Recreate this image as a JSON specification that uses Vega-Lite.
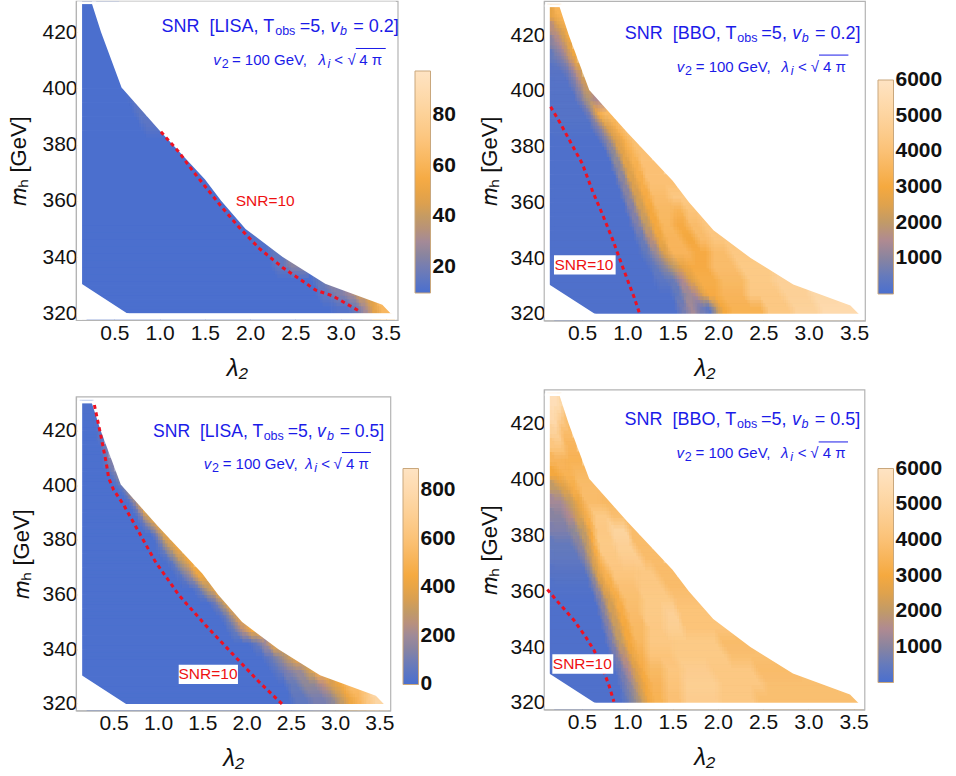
{"$schema":"https://vega.github.io/schema/vega-lite/v6.json","padding":{"left":7,"top":0,"right":0,"bottom":0},"spacing":21,
"resolve":{"scale":{"fill":"independent"},"legend":{"fill":"independent"}},
"config":{"font":"Liberation Sans","view":{"stroke":"#b4b4b4","strokeWidth":1.2},"axis":{"grid":false,"labelFont":"Liberation Sans","labelFontSize":21,"labelColor":"#111111","titleFont":"Liberation Sans","titleFontWeight":"normal","titleFontSize":22,"titleColor":"#111111","domainColor":"#b4b4b4","domainWidth":1.2,"tickColor":"#b4b4b4","tickSize":-4,"zindex":1},"axisX":{"labelPadding":6,"titlePadding":13,"titleFontSize":24},"axisY":{"labelPadding":3},"legend":{"orient":"none","title":null,"gradientThickness":15.5,"labelFont":"Liberation Sans","labelFontSize":21,"labelFontWeight":"bold","labelColor":"#111111","gradientStrokeColor":"#c9a77c","gradientStrokeWidth":1,"labelOverlap":false,"labelOffset":7,"direction":"vertical"}},
"datasets":{
"p1":[
{"x":0.144,"x2":2.9,"y":320,"y2":325,"v":10},{"x":2.9,"x2":3.1,"y":320,"y2":325,"v":12},{"x":3.1,"x2":3.2,"y":320,"y2":325,"v":18},{"x":3.2,"x2":3.3,"y":320,"y2":325,"v":30},{"x":3.3,"x2":3.4,"y":320,"y2":325,"v":48},{"x":3.4,"x2":3.55,"y":320,"y2":325,"v":62},
{"x":0.144,"x2":2.75,"y":325,"y2":330,"v":10},{"x":2.75,"x2":2.9,"y":325,"y2":330,"v":16},{"x":2.9,"x2":3.05,"y":325,"y2":330,"v":22},{"x":3.05,"x2":3.15,"y":325,"y2":330,"v":30},{"x":3.15,"x2":3.3,"y":325,"y2":330,"v":42},
{"x":0.144,"x2":2.7,"y":330,"y2":335,"v":10},{"x":2.7,"x2":2.8,"y":330,"y2":335,"v":17},{"x":2.8,"x2":2.9,"y":330,"y2":335,"v":24},
{"x":0.144,"x2":2.25,"y":335,"y2":340,"v":10},{"x":2.25,"x2":2.4,"y":335,"y2":340,"v":16},{"x":2.4,"x2":2.6,"y":335,"y2":340,"v":24},
{"x":0.144,"x2":2.2,"y":340,"y2":345,"v":10},{"x":2.2,"x2":2.36,"y":340,"y2":345,"v":16},
{"x":0.144,"x2":2.0,"y":345,"y2":350,"v":10},{"x":2.0,"x2":2.15,"y":345,"y2":350,"v":13},
{"x":0.144,"x2":1.95,"y":350,"y2":385,"v":10},
{"x":0.144,"x2":0.8,"y":385,"y2":390,"v":10},{"x":0.8,"x2":1.0,"y":385,"y2":390,"v":14},
{"x":0.144,"x2":0.72,"y":390,"y2":395,"v":10},{"x":0.72,"x2":0.85,"y":390,"y2":395,"v":15},
{"x":0.144,"x2":0.65,"y":395,"y2":400,"v":10},{"x":0.65,"x2":0.72,"y":395,"y2":400,"v":13},
{"x":0.144,"x2":0.58,"y":400,"y2":430,"v":10}],
"p3":[
{"x":0.144,"x2":2.5,"y":320,"y2":325,"v":5},{"x":2.5,"x2":2.7,"y":320,"y2":325,"v":60},{"x":2.7,"x2":2.9,"y":320,"y2":325,"v":110},{"x":2.9,"x2":3.0,"y":320,"y2":325,"v":170},{"x":3.0,"x2":3.1,"y":320,"y2":325,"v":300},{"x":3.1,"x2":3.2,"y":320,"y2":325,"v":420},{"x":3.2,"x2":3.3,"y":320,"y2":325,"v":520},{"x":3.3,"x2":3.4,"y":320,"y2":325,"v":640},{"x":3.4,"x2":3.55,"y":320,"y2":325,"v":760},
{"x":0.144,"x2":2.45,"y":325,"y2":330,"v":5},{"x":2.45,"x2":2.6,"y":325,"y2":330,"v":80},{"x":2.6,"x2":2.8,"y":325,"y2":330,"v":170},{"x":2.8,"x2":2.9,"y":325,"y2":330,"v":240},{"x":2.9,"x2":3.0,"y":325,"y2":330,"v":350},{"x":3.0,"x2":3.1,"y":325,"y2":330,"v":430},{"x":3.1,"x2":3.3,"y":325,"y2":330,"v":560},
{"x":0.144,"x2":2.3,"y":330,"y2":335,"v":5},{"x":2.3,"x2":2.4,"y":330,"y2":335,"v":60},{"x":2.4,"x2":2.5,"y":330,"y2":335,"v":120},{"x":2.5,"x2":2.65,"y":330,"y2":335,"v":190},{"x":2.65,"x2":2.75,"y":330,"y2":335,"v":330},{"x":2.75,"x2":2.88,"y":330,"y2":335,"v":480},
{"x":0.144,"x2":2.2,"y":335,"y2":340,"v":5},{"x":2.2,"x2":2.3,"y":335,"y2":340,"v":70},{"x":2.3,"x2":2.4,"y":335,"y2":340,"v":160},{"x":2.4,"x2":2.5,"y":335,"y2":340,"v":290},{"x":2.5,"x2":2.6,"y":335,"y2":340,"v":430},
{"x":0.144,"x2":2.05,"y":340,"y2":345,"v":5},{"x":2.05,"x2":2.15,"y":340,"y2":345,"v":70},{"x":2.15,"x2":2.25,"y":340,"y2":345,"v":200},{"x":2.25,"x2":2.36,"y":340,"y2":345,"v":420},
{"x":0.144,"x2":1.8,"y":345,"y2":350,"v":5},{"x":1.8,"x2":1.9,"y":345,"y2":350,"v":80},{"x":1.9,"x2":2.0,"y":345,"y2":350,"v":250},{"x":2.0,"x2":2.15,"y":345,"y2":350,"v":430},
{"x":0.144,"x2":1.72,"y":350,"y2":355,"v":5},{"x":1.72,"x2":1.8,"y":350,"y2":355,"v":90},{"x":1.8,"x2":1.88,"y":350,"y2":355,"v":260},{"x":1.88,"x2":1.95,"y":350,"y2":355,"v":420},
{"x":0.144,"x2":1.6,"y":355,"y2":360,"v":5},{"x":1.6,"x2":1.68,"y":355,"y2":360,"v":100},{"x":1.68,"x2":1.75,"y":355,"y2":360,"v":280},{"x":1.75,"x2":1.82,"y":355,"y2":360,"v":430},
{"x":0.144,"x2":1.42,"y":360,"y2":365,"v":5},{"x":1.42,"x2":1.5,"y":360,"y2":365,"v":90},{"x":1.5,"x2":1.6,"y":360,"y2":365,"v":280},{"x":1.6,"x2":1.68,"y":360,"y2":365,"v":430},
{"x":0.144,"x2":1.22,"y":365,"y2":370,"v":5},{"x":1.22,"x2":1.3,"y":365,"y2":370,"v":60},{"x":1.3,"x2":1.4,"y":365,"y2":370,"v":190},{"x":1.4,"x2":1.55,"y":365,"y2":370,"v":420},
{"x":0.144,"x2":1.12,"y":370,"y2":375,"v":5},{"x":1.12,"x2":1.2,"y":370,"y2":375,"v":80},{"x":1.2,"x2":1.3,"y":370,"y2":375,"v":270},{"x":1.3,"x2":1.4,"y":370,"y2":375,"v":430},
{"x":0.144,"x2":1.0,"y":375,"y2":380,"v":5},{"x":1.0,"x2":1.08,"y":375,"y2":380,"v":90},{"x":1.08,"x2":1.17,"y":375,"y2":380,"v":280},{"x":1.17,"x2":1.27,"y":375,"y2":380,"v":430},
{"x":0.144,"x2":0.95,"y":380,"y2":385,"v":5},{"x":0.95,"x2":1.0,"y":380,"y2":385,"v":120},{"x":1.0,"x2":1.06,"y":380,"y2":385,"v":300},{"x":1.06,"x2":1.13,"y":380,"y2":385,"v":440},
{"x":0.144,"x2":0.8,"y":385,"y2":390,"v":5},{"x":0.8,"x2":0.86,"y":385,"y2":390,"v":120},{"x":0.86,"x2":0.93,"y":385,"y2":390,"v":300},{"x":0.93,"x2":1.0,"y":385,"y2":390,"v":440},
{"x":0.144,"x2":0.72,"y":390,"y2":395,"v":5},{"x":0.72,"x2":0.78,"y":390,"y2":395,"v":130},{"x":0.78,"x2":0.85,"y":390,"y2":395,"v":420},
{"x":0.144,"x2":0.62,"y":395,"y2":400,"v":5},{"x":0.62,"x2":0.66,"y":395,"y2":400,"v":100},{"x":0.66,"x2":0.72,"y":395,"y2":400,"v":260},
{"x":0.144,"x2":0.5,"y":400,"y2":405,"v":5},{"x":0.5,"x2":0.55,"y":400,"y2":405,"v":90},{"x":0.55,"x2":0.58,"y":400,"y2":405,"v":170},
{"x":0.144,"x2":0.4,"y":405,"y2":410,"v":5},{"x":0.4,"x2":0.45,"y":405,"y2":410,"v":80},{"x":0.45,"x2":0.5,"y":405,"y2":410,"v":130},
{"x":0.144,"x2":0.38,"y":410,"y2":415,"v":5},{"x":0.38,"x2":0.44,"y":410,"y2":415,"v":110},
{"x":0.144,"x2":0.33,"y":415,"y2":420,"v":5},{"x":0.33,"x2":0.39,"y":415,"y2":420,"v":70},
{"x":0.144,"x2":0.3,"y":420,"y2":425,"v":5},{"x":0.3,"x2":0.354,"y":420,"y2":425,"v":35},
{"x":0.144,"x2":0.3,"y":425,"y2":430,"v":10}],
"p2":[
{"x":0.144,"x2":1.55,"y":320,"y2":325,"v":100},{"x":1.55,"x2":1.65,"y":320,"y2":325,"v":700},{"x":1.65,"x2":1.75,"y":320,"y2":325,"v":1400},{"x":1.75,"x2":1.85,"y":320,"y2":325,"v":700},{"x":1.85,"x2":1.93,"y":320,"y2":325,"v":300},{"x":1.93,"x2":2.0,"y":320,"y2":325,"v":1900},{"x":2.0,"x2":2.1,"y":320,"y2":325,"v":3000},{"x":2.1,"x2":2.5,"y":320,"y2":325,"v":3400},{"x":2.5,"x2":2.8,"y":320,"y2":325,"v":4300},{"x":2.8,"x2":3.1,"y":320,"y2":325,"v":4900},{"x":3.1,"x2":3.55,"y":320,"y2":325,"v":5400},
{"x":0.144,"x2":1.5,"y":325,"y2":330,"v":100},{"x":1.5,"x2":1.6,"y":325,"y2":330,"v":500},{"x":1.6,"x2":1.7,"y":325,"y2":330,"v":1300},{"x":1.7,"x2":1.78,"y":325,"y2":330,"v":1500},{"x":1.78,"x2":1.85,"y":325,"y2":330,"v":2400},{"x":1.85,"x2":2.0,"y":325,"y2":330,"v":3100},{"x":2.0,"x2":2.3,"y":325,"y2":330,"v":3500},{"x":2.3,"x2":2.7,"y":325,"y2":330,"v":4300},{"x":2.7,"x2":3.0,"y":325,"y2":330,"v":4800},{"x":3.0,"x2":3.3,"y":325,"y2":330,"v":5200},
{"x":0.144,"x2":1.3,"y":330,"y2":335,"v":100},{"x":1.3,"x2":1.45,"y":330,"y2":335,"v":300},{"x":1.45,"x2":1.55,"y":330,"y2":335,"v":600},{"x":1.55,"x2":1.65,"y":330,"y2":335,"v":1500},{"x":1.65,"x2":1.75,"y":330,"y2":335,"v":2500},{"x":1.75,"x2":2.0,"y":330,"y2":335,"v":3200},{"x":2.0,"x2":2.3,"y":330,"y2":335,"v":3700},{"x":2.3,"x2":2.6,"y":330,"y2":335,"v":4400},{"x":2.6,"x2":2.88,"y":330,"y2":335,"v":4800},
{"x":0.144,"x2":1.25,"y":335,"y2":340,"v":100},{"x":1.25,"x2":1.35,"y":335,"y2":340,"v":500},{"x":1.35,"x2":1.45,"y":335,"y2":340,"v":1100},{"x":1.45,"x2":1.55,"y":335,"y2":340,"v":2000},{"x":1.55,"x2":1.65,"y":335,"y2":340,"v":2700},{"x":1.65,"x2":1.9,"y":335,"y2":340,"v":3100},{"x":1.9,"x2":2.2,"y":335,"y2":340,"v":3800},{"x":2.2,"x2":2.6,"y":335,"y2":340,"v":4400},
{"x":0.144,"x2":1.15,"y":340,"y2":345,"v":100},{"x":1.15,"x2":1.25,"y":340,"y2":345,"v":500},{"x":1.25,"x2":1.35,"y":340,"y2":345,"v":1300},{"x":1.35,"x2":1.45,"y":340,"y2":345,"v":2400},{"x":1.45,"x2":1.7,"y":340,"y2":345,"v":3500},{"x":1.7,"x2":1.9,"y":340,"y2":345,"v":3100},{"x":1.9,"x2":2.1,"y":340,"y2":345,"v":3800},{"x":2.1,"x2":2.36,"y":340,"y2":345,"v":4300},
{"x":0.144,"x2":1.1,"y":345,"y2":350,"v":100},{"x":1.1,"x2":1.2,"y":345,"y2":350,"v":600},{"x":1.2,"x2":1.3,"y":345,"y2":350,"v":1700},{"x":1.3,"x2":1.4,"y":345,"y2":350,"v":2800},{"x":1.4,"x2":1.6,"y":345,"y2":350,"v":3500},{"x":1.6,"x2":1.75,"y":345,"y2":350,"v":3000},{"x":1.75,"x2":1.9,"y":345,"y2":350,"v":3800},{"x":1.9,"x2":2.15,"y":345,"y2":350,"v":4200},
{"x":0.144,"x2":1.05,"y":350,"y2":355,"v":100},{"x":1.05,"x2":1.15,"y":350,"y2":355,"v":800},{"x":1.15,"x2":1.25,"y":350,"y2":355,"v":2000},{"x":1.25,"x2":1.35,"y":350,"y2":355,"v":3000},{"x":1.35,"x2":1.5,"y":350,"y2":355,"v":3600},{"x":1.5,"x2":1.65,"y":350,"y2":355,"v":3100},{"x":1.65,"x2":1.8,"y":350,"y2":355,"v":3800},{"x":1.8,"x2":1.95,"y":350,"y2":355,"v":4200},
{"x":0.144,"x2":1.0,"y":355,"y2":360,"v":100},{"x":1.0,"x2":1.1,"y":355,"y2":360,"v":900},{"x":1.1,"x2":1.2,"y":355,"y2":360,"v":2200},{"x":1.2,"x2":1.3,"y":355,"y2":360,"v":3000},{"x":1.3,"x2":1.5,"y":355,"y2":360,"v":3700},{"x":1.5,"x2":1.62,"y":355,"y2":360,"v":3400},{"x":1.62,"x2":1.82,"y":355,"y2":360,"v":4100},
{"x":0.144,"x2":0.95,"y":360,"y2":365,"v":100},{"x":0.95,"x2":1.05,"y":360,"y2":365,"v":1000},{"x":1.05,"x2":1.15,"y":360,"y2":365,"v":2300},{"x":1.15,"x2":1.25,"y":360,"y2":365,"v":3100},{"x":1.25,"x2":1.45,"y":360,"y2":365,"v":3800},{"x":1.45,"x2":1.68,"y":360,"y2":365,"v":4300},
{"x":0.144,"x2":0.9,"y":365,"y2":370,"v":100},{"x":0.9,"x2":1.0,"y":365,"y2":370,"v":1000},{"x":1.0,"x2":1.1,"y":365,"y2":370,"v":2400},{"x":1.1,"x2":1.2,"y":365,"y2":370,"v":3200},{"x":1.2,"x2":1.55,"y":365,"y2":370,"v":4000},
{"x":0.144,"x2":0.85,"y":370,"y2":375,"v":100},{"x":0.85,"x2":0.95,"y":370,"y2":375,"v":1100},{"x":0.95,"x2":1.05,"y":370,"y2":375,"v":2500},{"x":1.05,"x2":1.15,"y":370,"y2":375,"v":3300},{"x":1.15,"x2":1.4,"y":370,"y2":375,"v":4000},
{"x":0.144,"x2":0.8,"y":375,"y2":380,"v":100},{"x":0.8,"x2":0.9,"y":375,"y2":380,"v":1200},{"x":0.9,"x2":1.0,"y":375,"y2":380,"v":2600},{"x":1.0,"x2":1.1,"y":375,"y2":380,"v":3400},{"x":1.1,"x2":1.27,"y":375,"y2":380,"v":4000},
{"x":0.144,"x2":0.72,"y":380,"y2":385,"v":100},{"x":0.72,"x2":0.82,"y":380,"y2":385,"v":1000},{"x":0.82,"x2":0.92,"y":380,"y2":385,"v":2400},{"x":0.92,"x2":1.0,"y":380,"y2":385,"v":3200},{"x":1.0,"x2":1.13,"y":380,"y2":385,"v":3900},
{"x":0.144,"x2":0.62,"y":385,"y2":390,"v":150},{"x":0.62,"x2":0.72,"y":385,"y2":390,"v":900},{"x":0.72,"x2":0.82,"y":385,"y2":390,"v":2400},{"x":0.82,"x2":0.9,"y":385,"y2":390,"v":3300},{"x":0.9,"x2":1.0,"y":385,"y2":390,"v":3900},
{"x":0.144,"x2":0.55,"y":390,"y2":395,"v":200},{"x":0.55,"x2":0.62,"y":390,"y2":395,"v":900},{"x":0.62,"x2":0.7,"y":390,"y2":395,"v":2900},{"x":0.7,"x2":0.85,"y":390,"y2":395,"v":3700},
{"x":0.144,"x2":0.45,"y":395,"y2":400,"v":200},{"x":0.45,"x2":0.52,"y":395,"y2":400,"v":900},{"x":0.52,"x2":0.6,"y":395,"y2":400,"v":1800},{"x":0.6,"x2":0.72,"y":395,"y2":400,"v":1500},
{"x":0.144,"x2":0.38,"y":400,"y2":405,"v":200},{"x":0.38,"x2":0.46,"y":400,"y2":405,"v":800},{"x":0.46,"x2":0.52,"y":400,"y2":405,"v":1700},{"x":0.52,"x2":0.58,"y":400,"y2":405,"v":2300},
{"x":0.144,"x2":0.3,"y":405,"y2":410,"v":250},{"x":0.3,"x2":0.38,"y":405,"y2":410,"v":700},{"x":0.38,"x2":0.44,"y":405,"y2":410,"v":1500},{"x":0.44,"x2":0.5,"y":405,"y2":410,"v":2300},
{"x":0.144,"x2":0.2,"y":410,"y2":415,"v":500},{"x":0.2,"x2":0.3,"y":410,"y2":415,"v":800},{"x":0.3,"x2":0.37,"y":410,"y2":415,"v":1700},{"x":0.37,"x2":0.44,"y":410,"y2":415,"v":2800},
{"x":0.144,"x2":0.2,"y":415,"y2":420,"v":1000},{"x":0.2,"x2":0.28,"y":415,"y2":420,"v":1500},{"x":0.28,"x2":0.34,"y":415,"y2":420,"v":2200},{"x":0.34,"x2":0.39,"y":415,"y2":420,"v":3000},
{"x":0.144,"x2":0.22,"y":420,"y2":425,"v":1700},{"x":0.22,"x2":0.3,"y":420,"y2":425,"v":2400},{"x":0.3,"x2":0.354,"y":420,"y2":425,"v":3200},
{"x":0.144,"x2":0.2,"y":425,"y2":430,"v":2700},{"x":0.2,"x2":0.3,"y":425,"y2":430,"v":3400}],
"p4":[
{"x":0.144,"x2":0.95,"y":320,"y2":325,"v":100},{"x":0.95,"x2":1.02,"y":320,"y2":325,"v":600},{"x":1.02,"x2":1.1,"y":320,"y2":325,"v":1200},{"x":1.1,"x2":1.17,"y":320,"y2":325,"v":2000},{"x":1.17,"x2":1.25,"y":320,"y2":325,"v":2900},{"x":1.25,"x2":1.4,"y":320,"y2":325,"v":3400},{"x":1.4,"x2":1.6,"y":320,"y2":325,"v":4000},{"x":1.6,"x2":2.0,"y":320,"y2":325,"v":4600},{"x":2.0,"x2":2.4,"y":320,"y2":325,"v":4300},{"x":2.4,"x2":3.55,"y":320,"y2":325,"v":3900},
{"x":0.144,"x2":0.92,"y":325,"y2":330,"v":100},{"x":0.92,"x2":1.0,"y":325,"y2":330,"v":700},{"x":1.0,"x2":1.07,"y":325,"y2":330,"v":1300},{"x":1.07,"x2":1.15,"y":325,"y2":330,"v":2200},{"x":1.15,"x2":1.23,"y":325,"y2":330,"v":3000},{"x":1.23,"x2":1.4,"y":325,"y2":330,"v":3500},{"x":1.4,"x2":1.6,"y":325,"y2":330,"v":4100},{"x":1.6,"x2":2.0,"y":325,"y2":330,"v":4700},{"x":2.0,"x2":2.5,"y":325,"y2":330,"v":4300},{"x":2.5,"x2":3.3,"y":325,"y2":330,"v":3900},
{"x":0.144,"x2":0.88,"y":330,"y2":335,"v":100},{"x":0.88,"x2":0.96,"y":330,"y2":335,"v":700},{"x":0.96,"x2":1.04,"y":330,"y2":335,"v":1500},{"x":1.04,"x2":1.12,"y":330,"y2":335,"v":2400},{"x":1.12,"x2":1.2,"y":330,"y2":335,"v":3100},{"x":1.2,"x2":1.4,"y":330,"y2":335,"v":3700},{"x":1.4,"x2":1.6,"y":330,"y2":335,"v":4200},{"x":1.6,"x2":1.9,"y":330,"y2":335,"v":4600},{"x":1.9,"x2":2.4,"y":330,"y2":335,"v":4300},{"x":2.4,"x2":2.88,"y":330,"y2":335,"v":3800},
{"x":0.144,"x2":0.82,"y":335,"y2":340,"v":100},{"x":0.82,"x2":0.9,"y":335,"y2":340,"v":700},{"x":0.9,"x2":1.0,"y":335,"y2":340,"v":1700},{"x":1.0,"x2":1.08,"y":335,"y2":340,"v":2700},{"x":1.08,"x2":1.2,"y":335,"y2":340,"v":3300},{"x":1.2,"x2":1.5,"y":335,"y2":340,"v":4100},{"x":1.5,"x2":2.1,"y":335,"y2":340,"v":4400},{"x":2.1,"x2":2.6,"y":335,"y2":340,"v":3900},
{"x":0.144,"x2":0.78,"y":340,"y2":345,"v":100},{"x":0.78,"x2":0.86,"y":340,"y2":345,"v":800},{"x":0.86,"x2":0.96,"y":340,"y2":345,"v":2000},{"x":0.96,"x2":1.06,"y":340,"y2":345,"v":3000},{"x":1.06,"x2":1.2,"y":340,"y2":345,"v":3600},{"x":1.2,"x2":1.5,"y":340,"y2":345,"v":4300},{"x":1.5,"x2":2.0,"y":340,"y2":345,"v":4400},{"x":2.0,"x2":2.36,"y":340,"y2":345,"v":3800},
{"x":0.144,"x2":0.74,"y":345,"y2":350,"v":100},{"x":0.74,"x2":0.82,"y":345,"y2":350,"v":900},{"x":0.82,"x2":0.92,"y":345,"y2":350,"v":2100},{"x":0.92,"x2":1.02,"y":345,"y2":350,"v":3000},{"x":1.02,"x2":1.2,"y":345,"y2":350,"v":3700},{"x":1.2,"x2":1.4,"y":345,"y2":350,"v":4300},{"x":1.4,"x2":1.6,"y":345,"y2":350,"v":4700},{"x":1.6,"x2":2.15,"y":345,"y2":350,"v":4100},
{"x":0.144,"x2":0.7,"y":350,"y2":355,"v":100},{"x":0.7,"x2":0.78,"y":350,"y2":355,"v":1000},{"x":0.78,"x2":0.88,"y":350,"y2":355,"v":2200},{"x":0.88,"x2":0.98,"y":350,"y2":355,"v":3100},{"x":0.98,"x2":1.15,"y":350,"y2":355,"v":3800},{"x":1.15,"x2":1.4,"y":350,"y2":355,"v":4400},{"x":1.4,"x2":1.55,"y":350,"y2":355,"v":4800},{"x":1.55,"x2":1.95,"y":350,"y2":355,"v":4100},
{"x":0.144,"x2":0.66,"y":355,"y2":360,"v":100},{"x":0.66,"x2":0.74,"y":355,"y2":360,"v":1000},{"x":0.74,"x2":0.84,"y":355,"y2":360,"v":2300},{"x":0.84,"x2":0.94,"y":355,"y2":360,"v":3200},{"x":0.94,"x2":1.15,"y":355,"y2":360,"v":3900},{"x":1.15,"x2":1.5,"y":355,"y2":360,"v":4400},{"x":1.5,"x2":1.82,"y":355,"y2":360,"v":4000},
{"x":0.144,"x2":0.6,"y":360,"y2":365,"v":150},{"x":0.6,"x2":0.68,"y":360,"y2":365,"v":1000},{"x":0.68,"x2":0.76,"y":360,"y2":365,"v":2400},{"x":0.76,"x2":0.86,"y":360,"y2":365,"v":3200},{"x":0.86,"x2":1.1,"y":360,"y2":365,"v":4000},{"x":1.1,"x2":1.4,"y":360,"y2":365,"v":4300},{"x":1.4,"x2":1.68,"y":360,"y2":365,"v":3800},
{"x":0.144,"x2":0.56,"y":365,"y2":370,"v":250},{"x":0.56,"x2":0.62,"y":365,"y2":370,"v":1200},{"x":0.62,"x2":0.7,"y":365,"y2":370,"v":2500},{"x":0.7,"x2":0.8,"y":365,"y2":370,"v":3400},{"x":0.8,"x2":1.1,"y":365,"y2":370,"v":4200},{"x":1.1,"x2":1.3,"y":365,"y2":370,"v":4300},{"x":1.3,"x2":1.55,"y":365,"y2":370,"v":3800},
{"x":0.144,"x2":0.48,"y":370,"y2":375,"v":400},{"x":0.48,"x2":0.56,"y":370,"y2":375,"v":1000},{"x":0.56,"x2":0.63,"y":370,"y2":375,"v":2200},{"x":0.63,"x2":0.7,"y":370,"y2":375,"v":3200},{"x":0.7,"x2":0.9,"y":370,"y2":375,"v":4300},{"x":0.9,"x2":1.15,"y":370,"y2":375,"v":4600},{"x":1.15,"x2":1.4,"y":370,"y2":375,"v":3800},
{"x":0.144,"x2":0.4,"y":375,"y2":380,"v":500},{"x":0.4,"x2":0.5,"y":375,"y2":380,"v":1000},{"x":0.5,"x2":0.58,"y":375,"y2":380,"v":1900},{"x":0.58,"x2":0.65,"y":375,"y2":380,"v":3100},{"x":0.65,"x2":0.85,"y":375,"y2":380,"v":4400},{"x":0.85,"x2":1.05,"y":375,"y2":380,"v":4800},{"x":1.05,"x2":1.27,"y":375,"y2":380,"v":3800},
{"x":0.144,"x2":0.35,"y":380,"y2":385,"v":800},{"x":0.35,"x2":0.45,"y":380,"y2":385,"v":1200},{"x":0.45,"x2":0.55,"y":380,"y2":385,"v":2000},{"x":0.55,"x2":0.62,"y":380,"y2":385,"v":3000},{"x":0.62,"x2":0.8,"y":380,"y2":385,"v":4300},{"x":0.8,"x2":1.0,"y":380,"y2":385,"v":5000},{"x":1.0,"x2":1.13,"y":380,"y2":385,"v":3800},
{"x":0.144,"x2":0.3,"y":385,"y2":390,"v":1000},{"x":0.3,"x2":0.4,"y":385,"y2":390,"v":1500},{"x":0.4,"x2":0.5,"y":385,"y2":390,"v":2300},{"x":0.5,"x2":0.6,"y":385,"y2":390,"v":3300},{"x":0.6,"x2":0.8,"y":385,"y2":390,"v":4400},{"x":0.8,"x2":1.0,"y":385,"y2":390,"v":3900},
{"x":0.144,"x2":0.3,"y":390,"y2":395,"v":1400},{"x":0.3,"x2":0.4,"y":390,"y2":395,"v":2000},{"x":0.4,"x2":0.5,"y":390,"y2":395,"v":2800},{"x":0.5,"x2":0.7,"y":390,"y2":395,"v":3800},{"x":0.7,"x2":0.85,"y":390,"y2":395,"v":3700},
{"x":0.144,"x2":0.25,"y":395,"y2":400,"v":2000},{"x":0.25,"x2":0.35,"y":395,"y2":400,"v":2500},{"x":0.35,"x2":0.45,"y":395,"y2":400,"v":3200},{"x":0.45,"x2":0.72,"y":395,"y2":400,"v":3800},
{"x":0.144,"x2":0.25,"y":400,"y2":405,"v":3000},{"x":0.25,"x2":0.4,"y":400,"y2":405,"v":3400},{"x":0.4,"x2":0.58,"y":400,"y2":405,"v":3700},
{"x":0.144,"x2":0.3,"y":405,"y2":410,"v":3500},{"x":0.3,"x2":0.5,"y":405,"y2":410,"v":3400},
{"x":0.144,"x2":0.3,"y":410,"y2":415,"v":4200},{"x":0.3,"x2":0.44,"y":410,"y2":415,"v":3500},
{"x":0.144,"x2":0.25,"y":415,"y2":420,"v":4900},{"x":0.25,"x2":0.39,"y":415,"y2":420,"v":3800},
{"x":0.144,"x2":0.22,"y":420,"y2":425,"v":5400},{"x":0.22,"x2":0.3,"y":420,"y2":425,"v":4600},{"x":0.3,"x2":0.354,"y":420,"y2":425,"v":3700},
{"x":0.144,"x2":0.25,"y":425,"y2":430,"v":5700},{"x":0.25,"x2":0.3,"y":425,"y2":430,"v":5000}],
"edge":[{"x":0.254,"y":430,"y2":430.9},{"x":0.354,"y":420,"y2":430.9},{"x":0.58,"y":400.3,"y2":430.9},{"x":1.0,"y":385,"y2":430.9},{"x":1.5,"y":367.7,"y2":430.9},{"x":1.68,"y":360,"y2":430.9},{"x":1.95,"y":350,"y2":430.9},{"x":2.36,"y":340,"y2":430.9},{"x":2.83,"y":330.5,"y2":430.9},{"x":3.46,"y":323,"y2":430.9},{"x":3.55,"y":320,"y2":430.9},{"x":3.61,"y":319.4,"y2":430.9}],
"corner":[{"x":0.13,"y":330.7,"y2":319.6},{"x":0.64,"y":320,"y2":319.6},{"x":0.66,"y":319.9,"y2":319.6}],
"frame":[{"x":0.09,"x2":0.144,"y":317.8,"y2":430.9},{"x":0.09,"x2":3.61,"y":317.8,"y2":320},{"x":0.09,"x2":0.3,"y":430,"y2":430.9}]
},
"hconcat":[{"spacing":14.5,"align":"none","center":false,"resolve":{"scale":{"fill":"independent"},"legend":{"fill":"independent"}},"vconcat":[
{"width":321.7,"height":319,"encoding":{"x":{"field":"x","type":"quantitative","scale":{"domain":[0.077,3.63],"nice":false,"zero":false},"axis":{"values":[0.5,1,1.5,2,2.5,3,3.5],"format":".1f","title":"λ₂","titleFontStyle":"italic"}},"y":{"field":"y","type":"quantitative","scale":{"domain":[317.6,431.1],"nice":false,"zero":false},"axis":{"values":[320,340,360,380,400,420],"title":"𝑚ₕ [GeV]","titlePadding":11}}},
"layer":[
{"data":{"name":"p1"},"mark":{"type":"rect"},"encoding":{"x2":{"field":"x2"},"y2":{"field":"y2"},"fill":{"field":"v","type":"quantitative","scale":{"domain":[9.7,18.5,27.2,36,44.8,53.6,71.1,84.2,97.4],"range":["#4a6fcf","#6a7cb8","#8f8a96","#b39773","#dba04f","#f5a93f","#fcc67f","#fdd6a3","#fee3c3"]},"legend":{"type":"gradient","format":"d","values":[20,40,60,80],"legendX":339,"legendY":70,"gradientLength":222}}}},
{"data":{"name":"p1"},"mark":{"type":"rect"},"encoding":{"x2":{"field":"x2"},"y2":{"field":"y2"},"fill":{"field":"v","type":"quantitative","legend":null}}},
{"data":{"name":"p1"},"mark":{"type":"rect","clip":true,"opacity":0.5,"xOffset":4.5,"x2Offset":4.5,"yOffset":7,"y2Offset":7},"encoding":{"x2":{"field":"x2"},"y2":{"field":"y2"},"fill":{"field":"v","type":"quantitative","legend":null}}},
{"data":{"name":"p1"},"mark":{"type":"rect","clip":true,"opacity":0.33,"xOffset":-2.5,"x2Offset":-2.5,"yOffset":-3.5,"y2Offset":-3.5},"encoding":{"x2":{"field":"x2"},"y2":{"field":"y2"},"fill":{"field":"v","type":"quantitative","legend":null}}},
{"data":{"name":"p1"},"mark":{"type":"rect","clip":true,"opacity":0.25,"xOffset":2,"x2Offset":2,"yOffset":3.5,"y2Offset":3.5},"encoding":{"x2":{"field":"x2"},"y2":{"field":"y2"},"fill":{"field":"v","type":"quantitative","legend":null}}},
{"data":{"name":"edge"},"mark":{"type":"area","color":"white"},"encoding":{"y2":{"field":"y2"}}},
{"data":{"name":"corner"},"mark":{"type":"area","color":"white"},"encoding":{"y2":{"field":"y2"}}},
{"data":{"name":"frame"},"mark":{"type":"rect","color":"white"},"encoding":{"x2":{"field":"x2"},"y2":{"field":"y2"}}},
{"data":{"values":[{"x":1.015,"y":384.6},{"x":1.217,"y":377.2},{"x":1.365,"y":370.7},{"x":1.549,"y":363.3},{"x":1.696,"y":357.4},{"x":1.88,"y":350.5},{"x":2.1,"y":343.1},{"x":2.358,"y":336.3},{"x":2.726,"y":328.2},{"x":2.91,"y":326.2},{"x":3.204,"y":320.8}]},"mark":{"type":"line","color":"#ee1122","strokeWidth":3,"strokeDash":[4,3.6]},"encoding":{}},
{"data":{"values":[{"x":2.167,"y":360,"t":"SNR=10"}]},"mark":{"type":"text","color":"#ee1111","fontSize":15.5,"align":"center","baseline":"middle"},"encoding":{"text":{"field":"t"}}},
{"data":{"values":[{"x":1.022,"y":420.1,"t":"SNR\u00a0\u00a0[LISA, T"},{"x":2.549,"y":420.1,"t":"=5,"},{"x":3.138,"y":420.1,"t":"= 0.2]"}]},"mark":{"type":"text","color":"#1b1be8","fontSize":18,"align":"left","baseline":"alphabetic"},"encoding":{"text":{"field":"t"}}},
{"data":{"values":[{"x":2.884,"y":420.1,"t":"v"}]},"mark":{"type":"text","color":"#1b1be8","fontSize":18,"fontStyle":"italic","align":"left","baseline":"alphabetic"},"encoding":{"text":{"field":"t"}}},
{"data":{"values":[{"x":1.799,"y":408.4,"t":"= 100 GeV,"},{"x":2.928,"y":408.4,"t":"<"},{"x":3.075,"y":408.4,"t":"√"},{"x":3.204,"y":408.4,"t":"4 π"}]},"mark":{"type":"text","color":"#1b1be8","fontSize":15,"align":"left","baseline":"alphabetic"},"encoding":{"text":{"field":"t"}}},
{"data":{"values":[{"x":1.593,"y":408.4,"t":"v"},{"x":2.755,"y":408.4,"t":"λ"}]},"mark":{"type":"text","color":"#1b1be8","fontSize":15,"fontStyle":"italic","align":"left","baseline":"alphabetic"},"encoding":{"text":{"field":"t"}}},
{"data":{"values":[{"x":2.277,"y":420.1,"t":"obs"},{"x":1.688,"y":408.4,"t":"2"}]},"mark":{"type":"text","color":"#1b1be8","fontSize":12.5,"dy":3,"align":"left","baseline":"alphabetic"},"encoding":{"text":{"field":"t"}}},
{"data":{"values":[{"x":2.994,"y":420.1,"t":"b"},{"x":2.855,"y":408.4,"t":"i"}]},"mark":{"type":"text","color":"#1b1be8","fontSize":12.5,"dy":3,"fontStyle":"italic","align":"left","baseline":"alphabetic"},"encoding":{"text":{"field":"t"}}},
{"data":{"values":[{"x":3.167,"x2":3.498,"y":414.2}]},"mark":{"type":"rule","color":"#1b1be8","strokeWidth":1},"encoding":{"x2":{"field":"x2"}}}
]},
{"width":314.4,"height":314,"encoding":{"x":{"field":"x","type":"quantitative","scale":{"domain":[0.0745,3.624],"nice":false,"zero":false},"axis":{"values":[0.5,1,1.5,2,2.5,3,3.5],"format":".1f","title":"λ₂","titleFontStyle":"italic"}},"y":{"field":"y","type":"quantitative","scale":{"domain":[317.6,432.5],"nice":false,"zero":false},"axis":{"values":[320,340,360,380,400,420],"title":"𝑚ₕ [GeV]","titlePadding":8.3}}},
"layer":[
{"data":{"name":"p3"},"mark":{"type":"rect"},"encoding":{"x2":{"field":"x2"},"y2":{"field":"y2"},"fill":{"field":"v","type":"quantitative","scale":{"domain":[-0.5,89,178,267,356,445,623,756,890],"range":["#4a6fcf","#6a7cb8","#8f8a96","#b39773","#dba04f","#f5a93f","#fcc67f","#fdd6a3","#fee3c3"]},"legend":{"type":"gradient","format":"d","values":[0,200,400,600,800],"legendX":327,"legendY":72,"gradientLength":216}}}},
{"data":{"name":"p3"},"mark":{"type":"rect"},"encoding":{"x2":{"field":"x2"},"y2":{"field":"y2"},"fill":{"field":"v","type":"quantitative","legend":null}}},
{"data":{"name":"p3"},"mark":{"type":"rect","clip":true,"opacity":0.5,"xOffset":4.5,"x2Offset":4.5,"yOffset":7,"y2Offset":7},"encoding":{"x2":{"field":"x2"},"y2":{"field":"y2"},"fill":{"field":"v","type":"quantitative","legend":null}}},
{"data":{"name":"p3"},"mark":{"type":"rect","clip":true,"opacity":0.33,"xOffset":-2.5,"x2Offset":-2.5,"yOffset":-3.5,"y2Offset":-3.5},"encoding":{"x2":{"field":"x2"},"y2":{"field":"y2"},"fill":{"field":"v","type":"quantitative","legend":null}}},
{"data":{"name":"p3"},"mark":{"type":"rect","clip":true,"opacity":0.25,"xOffset":2,"x2Offset":2,"yOffset":3.5,"y2Offset":3.5},"encoding":{"x2":{"field":"x2"},"y2":{"field":"y2"},"fill":{"field":"v","type":"quantitative","legend":null}}},
{"data":{"name":"edge"},"mark":{"type":"area","color":"white"},"encoding":{"y2":{"field":"y2"}}},
{"data":{"name":"corner"},"mark":{"type":"area","color":"white"},"encoding":{"y2":{"field":"y2"}}},
{"data":{"name":"frame"},"mark":{"type":"rect","color":"white"},"encoding":{"x2":{"field":"x2"},"y2":{"field":"y2"}}},
{"data":{"values":[{"x":0.282,"y":429.4},{"x":0.35,"y":419},{"x":0.413,"y":408.7},{"x":0.444,"y":402.6},{"x":0.5,"y":398.3},{"x":0.613,"y":392.8},{"x":0.782,"y":383},{"x":0.97,"y":372.1},{"x":1.234,"y":359.9},{"x":1.535,"y":348.9},{"x":1.836,"y":338.5},{"x":2.137,"y":328.2},{"x":2.4,"y":320}]},"mark":{"type":"line","color":"#ee1122","strokeWidth":3,"strokeDash":[4,3.6]},"encoding":{}},
{"data":{"values":[{"x":1.234,"x2":1.903,"y":334.3,"y2":327.3}]},"mark":{"type":"rect","color":"white"},"encoding":{"x2":{"field":"x2"},"y2":{"field":"y2"}}},
{"data":{"values":[{"x":1.565,"y":330.9,"t":"SNR=10"}]},"mark":{"type":"text","color":"#ee1111","fontSize":15.5,"align":"center","baseline":"middle"},"encoding":{"text":{"field":"t"}}},
{"data":{"values":[{"x":0.944,"y":417.6,"t":"SNR\u00a0\u00a0[LISA, T"},{"x":2.464,"y":417.6,"t":"=5,"},{"x":3.051,"y":417.6,"t":"= 0.5]"}]},"mark":{"type":"text","color":"#1b1be8","fontSize":17.6,"align":"left","baseline":"alphabetic"},"encoding":{"text":{"field":"t"}}},
{"data":{"values":[{"x":2.795,"y":417.6,"t":"v"}]},"mark":{"type":"text","color":"#1b1be8","fontSize":17.6,"fontStyle":"italic","align":"left","baseline":"alphabetic"},"encoding":{"text":{"field":"t"}}},
{"data":{"values":[{"x":1.73,"y":405.9,"t":"= 100 GeV,"},{"x":2.844,"y":405.9,"t":"<"},{"x":2.983,"y":405.9,"t":"√"},{"x":3.122,"y":405.9,"t":"4 π"}]},"mark":{"type":"text","color":"#1b1be8","fontSize":15,"align":"left","baseline":"alphabetic"},"encoding":{"text":{"field":"t"}}},
{"data":{"values":[{"x":1.516,"y":405.9,"t":"v"},{"x":2.663,"y":405.9,"t":"λ"}]},"mark":{"type":"text","color":"#1b1be8","fontSize":15,"fontStyle":"italic","align":"left","baseline":"alphabetic"},"encoding":{"text":{"field":"t"}}},
{"data":{"values":[{"x":2.193,"y":417.6,"t":"obs"},{"x":1.61,"y":405.9,"t":"2"}]},"mark":{"type":"text","color":"#1b1be8","fontSize":12.5,"dy":3,"align":"left","baseline":"alphabetic"},"encoding":{"text":{"field":"t"}}},
{"data":{"values":[{"x":2.908,"y":417.6,"t":"b"},{"x":2.765,"y":405.9,"t":"i"}]},"mark":{"type":"text","color":"#1b1be8","fontSize":12.5,"dy":3,"fontStyle":"italic","align":"left","baseline":"alphabetic"},"encoding":{"text":{"field":"t"}}},
{"data":{"values":[{"x":3.077,"x2":3.404,"y":412}]},"mark":{"type":"rule","color":"#1b1be8","strokeWidth":1},"encoding":{"x2":{"field":"x2"}}}
]}
]},
{"spacing":6.5,"align":"none","center":false,"resolve":{"scale":{"fill":"independent"},"legend":{"fill":"independent"}},"vconcat":[
{"width":321,"height":319.5,"encoding":{"x":{"field":"x","type":"quantitative","scale":{"domain":[0.081,3.621],"nice":false,"zero":false},"axis":{"values":[0.5,1,1.5,2,2.5,3,3.5],"format":".1f","title":"λ₂","titleFontStyle":"italic"}},"y":{"field":"y","type":"quantitative","scale":{"domain":[317.6,432.2],"nice":false,"zero":false},"axis":{"values":[320,340,360,380,400,420],"title":"𝑚ₕ [GeV]","titlePadding":8.3}}},
"layer":[
{"data":{"name":"p2"},"mark":{"type":"rect"},"encoding":{"x2":{"field":"x2"},"y2":{"field":"y2"},"fill":{"field":"v","type":"quantitative","scale":{"domain":[-1,600,1200,1800,2400,3000,4200,5100,6001],"range":["#4a6fcf","#6a7cb8","#8f8a96","#b39773","#dba04f","#f5a93f","#fcc67f","#fdd6a3","#fee3c3"]},"legend":{"type":"gradient","format":"d","values":[1000,2000,3000,4000,5000,6000],"legendX":334,"legendY":79,"gradientLength":214}}}},
{"data":{"name":"p2"},"mark":{"type":"rect"},"encoding":{"x2":{"field":"x2"},"y2":{"field":"y2"},"fill":{"field":"v","type":"quantitative","legend":null}}},
{"data":{"name":"p2"},"mark":{"type":"rect","clip":true,"opacity":0.5,"xOffset":4.5,"x2Offset":4.5,"yOffset":7,"y2Offset":7},"encoding":{"x2":{"field":"x2"},"y2":{"field":"y2"},"fill":{"field":"v","type":"quantitative","legend":null}}},
{"data":{"name":"p2"},"mark":{"type":"rect","clip":true,"opacity":0.33,"xOffset":-2.5,"x2Offset":-2.5,"yOffset":-3.5,"y2Offset":-3.5},"encoding":{"x2":{"field":"x2"},"y2":{"field":"y2"},"fill":{"field":"v","type":"quantitative","legend":null}}},
{"data":{"name":"p2"},"mark":{"type":"rect","clip":true,"opacity":0.25,"xOffset":2,"x2Offset":2,"yOffset":3.5,"y2Offset":3.5},"encoding":{"x2":{"field":"x2"},"y2":{"field":"y2"},"fill":{"field":"v","type":"quantitative","legend":null}}},
{"data":{"name":"edge"},"mark":{"type":"area","color":"white"},"encoding":{"y2":{"field":"y2"}}},
{"data":{"name":"corner"},"mark":{"type":"area","color":"white"},"encoding":{"y2":{"field":"y2"}}},
{"data":{"name":"frame"},"mark":{"type":"rect","color":"white"},"encoding":{"x2":{"field":"x2"},"y2":{"field":"y2"}}},
{"data":{"values":[{"x":0.154,"y":394.3},{"x":0.265,"y":388.1},{"x":0.375,"y":381.5},{"x":0.504,"y":373.8},{"x":0.614,"y":364.2},{"x":0.724,"y":355.8},{"x":0.835,"y":346.9},{"x":0.963,"y":335.5},{"x":1.074,"y":326},{"x":1.136,"y":320}]},"mark":{"type":"line","color":"#ee1122","strokeWidth":3,"strokeDash":[4,3.6]},"encoding":{}},
{"data":{"values":[{"x":0.191,"x2":0.871,"y":341,"y2":334.1}]},"mark":{"type":"rect","color":"white"},"encoding":{"x2":{"field":"x2"},"y2":{"field":"y2"}}},
{"data":{"values":[{"x":0.522,"y":337.6,"t":"SNR=10"}]},"mark":{"type":"text","color":"#ee1111","fontSize":15.5,"align":"center","baseline":"middle"},"encoding":{"text":{"field":"t"}}},
{"data":{"values":[{"x":0.971,"y":418.6,"t":"SNR\u00a0\u00a0[BBO, T"},{"x":2.478,"y":418.6,"t":"=5,"},{"x":3.07,"y":418.6,"t":"= 0.2]"}]},"mark":{"type":"text","color":"#1b1be8","fontSize":18,"align":"left","baseline":"alphabetic"},"encoding":{"text":{"field":"t"}}},
{"data":{"values":[{"x":2.82,"y":418.6,"t":"v"}]},"mark":{"type":"text","color":"#1b1be8","fontSize":18,"fontStyle":"italic","align":"left","baseline":"alphabetic"},"encoding":{"text":{"field":"t"}}},
{"data":{"values":[{"x":1.754,"y":406.9,"t":"= 100 GeV,"},{"x":2.882,"y":406.9,"t":"<"},{"x":3.022,"y":406.9,"t":"√"},{"x":3.158,"y":406.9,"t":"4 π"}]},"mark":{"type":"text","color":"#1b1be8","fontSize":15,"align":"left","baseline":"alphabetic"},"encoding":{"text":{"field":"t"}}},
{"data":{"values":[{"x":1.544,"y":406.9,"t":"v"},{"x":2.699,"y":406.9,"t":"λ"}]},"mark":{"type":"text","color":"#1b1be8","fontSize":15,"fontStyle":"italic","align":"left","baseline":"alphabetic"},"encoding":{"text":{"field":"t"}}},
{"data":{"values":[{"x":2.213,"y":418.6,"t":"obs"},{"x":1.636,"y":406.9,"t":"2"}]},"mark":{"type":"text","color":"#1b1be8","fontSize":12.5,"dy":3,"align":"left","baseline":"alphabetic"},"encoding":{"text":{"field":"t"}}},
{"data":{"values":[{"x":2.923,"y":418.6,"t":"b"},{"x":2.801,"y":406.9,"t":"i"}]},"mark":{"type":"text","color":"#1b1be8","fontSize":12.5,"dy":3,"fontStyle":"italic","align":"left","baseline":"alphabetic"},"encoding":{"text":{"field":"t"}}},
{"data":{"values":[{"x":3.114,"x2":3.438,"y":412.8}]},"mark":{"type":"rule","color":"#1b1be8","strokeWidth":1},"encoding":{"x2":{"field":"x2"}}}
]},
{"width":320.5,"height":320,"encoding":{"x":{"field":"x","type":"quantitative","scale":{"domain":[0.081,3.62],"nice":false,"zero":false},"axis":{"values":[0.5,1,1.5,2,2.5,3,3.5],"format":".1f","title":"λ₂","titleFontStyle":"italic"}},"y":{"field":"y","type":"quantitative","scale":{"domain":[317.6,432.3],"nice":false,"zero":false},"axis":{"values":[320,340,360,380,400,420],"title":"𝑚ₕ [GeV]","titlePadding":8.3}}},
"layer":[
{"data":{"name":"p4"},"mark":{"type":"rect"},"encoding":{"x2":{"field":"x2"},"y2":{"field":"y2"},"fill":{"field":"v","type":"quantitative","scale":{"domain":[-1,600,1200,1800,2400,3000,4200,5100,6001],"range":["#4a6fcf","#6a7cb8","#8f8a96","#b39773","#dba04f","#f5a93f","#fcc67f","#fdd6a3","#fee3c3"]},"legend":{"type":"gradient","format":"d","values":[1000,2000,3000,4000,5000,6000],"legendX":334,"legendY":79,"gradientLength":214}}}},
{"data":{"name":"p4"},"mark":{"type":"rect"},"encoding":{"x2":{"field":"x2"},"y2":{"field":"y2"},"fill":{"field":"v","type":"quantitative","legend":null}}},
{"data":{"name":"p4"},"mark":{"type":"rect","clip":true,"opacity":0.5,"xOffset":4.5,"x2Offset":4.5,"yOffset":7,"y2Offset":7},"encoding":{"x2":{"field":"x2"},"y2":{"field":"y2"},"fill":{"field":"v","type":"quantitative","legend":null}}},
{"data":{"name":"p4"},"mark":{"type":"rect","clip":true,"opacity":0.33,"xOffset":-2.5,"x2Offset":-2.5,"yOffset":-3.5,"y2Offset":-3.5},"encoding":{"x2":{"field":"x2"},"y2":{"field":"y2"},"fill":{"field":"v","type":"quantitative","legend":null}}},
{"data":{"name":"p4"},"mark":{"type":"rect","clip":true,"opacity":0.25,"xOffset":2,"x2Offset":2,"yOffset":3.5,"y2Offset":3.5},"encoding":{"x2":{"field":"x2"},"y2":{"field":"y2"},"fill":{"field":"v","type":"quantitative","legend":null}}},
{"data":{"name":"edge"},"mark":{"type":"area","color":"white"},"encoding":{"y2":{"field":"y2"}}},
{"data":{"name":"corner"},"mark":{"type":"area","color":"white"},"encoding":{"y2":{"field":"y2"}}},
{"data":{"name":"frame"},"mark":{"type":"rect","color":"white"},"encoding":{"x2":{"field":"x2"},"y2":{"field":"y2"}}},
{"data":{"values":[{"x":0.118,"y":360.6},{"x":0.265,"y":355},{"x":0.412,"y":349.6},{"x":0.54,"y":343.7},{"x":0.632,"y":338.9},{"x":0.743,"y":331.1},{"x":0.798,"y":326.3},{"x":0.853,"y":320.4}]},"mark":{"type":"line","color":"#ee1122","strokeWidth":3,"strokeDash":[4,3.6]},"encoding":{}},
{"data":{"values":[{"x":0.173,"x2":0.846,"y":337.4,"y2":330.4}]},"mark":{"type":"rect","color":"white"},"encoding":{"x2":{"field":"x2"},"y2":{"field":"y2"}}},
{"data":{"values":[{"x":0.504,"y":334,"t":"SNR=10"}]},"mark":{"type":"text","color":"#ee1111","fontSize":15.5,"align":"center","baseline":"middle"},"encoding":{"text":{"field":"t"}}},
{"data":{"values":[{"x":0.971,"y":419.5,"t":"SNR\u00a0\u00a0[BBO, T"},{"x":2.478,"y":419.5,"t":"=5,"},{"x":3.07,"y":419.5,"t":"= 0.5]"}]},"mark":{"type":"text","color":"#1b1be8","fontSize":18,"align":"left","baseline":"alphabetic"},"encoding":{"text":{"field":"t"}}},
{"data":{"values":[{"x":2.82,"y":419.5,"t":"v"}]},"mark":{"type":"text","color":"#1b1be8","fontSize":18,"fontStyle":"italic","align":"left","baseline":"alphabetic"},"encoding":{"text":{"field":"t"}}},
{"data":{"values":[{"x":1.754,"y":407.6,"t":"= 100 GeV,"},{"x":2.882,"y":407.6,"t":"<"},{"x":3.022,"y":407.6,"t":"√"},{"x":3.158,"y":407.6,"t":"4 π"}]},"mark":{"type":"text","color":"#1b1be8","fontSize":15,"align":"left","baseline":"alphabetic"},"encoding":{"text":{"field":"t"}}},
{"data":{"values":[{"x":1.544,"y":407.6,"t":"v"},{"x":2.699,"y":407.6,"t":"λ"}]},"mark":{"type":"text","color":"#1b1be8","fontSize":15,"fontStyle":"italic","align":"left","baseline":"alphabetic"},"encoding":{"text":{"field":"t"}}},
{"data":{"values":[{"x":2.213,"y":419.5,"t":"obs"},{"x":1.636,"y":407.6,"t":"2"}]},"mark":{"type":"text","color":"#1b1be8","fontSize":12.5,"dy":3,"align":"left","baseline":"alphabetic"},"encoding":{"text":{"field":"t"}}},
{"data":{"values":[{"x":2.923,"y":419.5,"t":"b"},{"x":2.801,"y":407.6,"t":"i"}]},"mark":{"type":"text","color":"#1b1be8","fontSize":12.5,"dy":3,"fontStyle":"italic","align":"left","baseline":"alphabetic"},"encoding":{"text":{"field":"t"}}},
{"data":{"values":[{"x":3.114,"x2":3.438,"y":413.5}]},"mark":{"type":"rule","color":"#1b1be8","strokeWidth":1},"encoding":{"x2":{"field":"x2"}}}
]}
]}
]}
